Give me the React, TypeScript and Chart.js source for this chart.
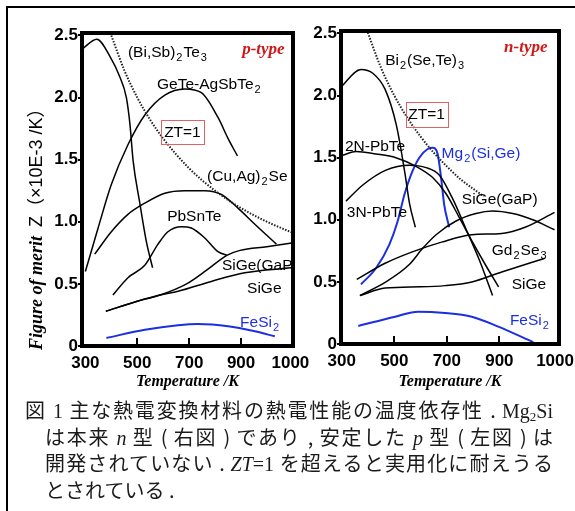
import React, { useEffect, useRef } from "react";
import { Chart, registerables } from "chart.js";

Chart.register(...registerables);

const SANS = '"Liberation Sans", Arial, "Noto Sans CJK JP", sans-serif';
const SERIF = '"Liberation Serif", "Times New Roman", serif';
const BLUE = "#1c2fe0";
const RED = "#d01818";

// ---------- shared axis ticks ----------
const xTickLabels = ["300", "500", "700", "900", "1000"];
const leftXTickValues = [300, 500, 700, 900, 1090];
const rightXTickValues = [300, 500, 700, 900, 1112];
const yTickValues = [0, 0.5, 1, 1.5, 2, 2.5];
const yTickLabels = ["0", "0.5", "1.0", "1.5", "2.0", "2.5"];

// ---------- left panel (p-type) ----------
const ztLeftT = [400, 450, 500, 550, 600, 700, 800, 900, 1000, 1100];
const ztLeftZ = [2.5, 2.22, 2.0, 1.82, 1.67, 1.43, 1.25, 1.11, 1.0, 0.91];
const biSbTeT = [287, 344, 395, 432, 458, 472, 484, 509, 535, 559];
const biSbTeZ = [2.39, 2.47, 2.33, 2.17, 2.0, 1.78, 1.49, 1.16, 0.84, 0.63];
const geTeT = [300, 349, 400, 464, 529, 606, 683, 747, 811, 850, 886];
const geTeZ = [0.6, 0.95, 1.3, 1.62, 1.86, 2.02, 2.07, 2.04, 1.84, 1.67, 1.53];
const cuAgSeT = [336, 400, 464, 529, 606, 683, 760, 824, 888, 953, 1036];
const cuAgSeZ = [0.74, 0.92, 1.06, 1.15, 1.23, 1.25, 1.25, 1.22, 1.11, 0.98, 0.82];
const pbSnTeT = [406, 464, 529, 580, 618, 670, 708, 760, 811, 845];
const pbSnTeZ = [0.41, 0.55, 0.65, 0.82, 0.92, 0.96, 0.95, 0.87, 0.76, 0.73];
const siGeGaPLeftT = [379, 500, 588, 690, 767, 845, 896, 999, 1095];
const siGeGaPLeftZ = [0.28, 0.36, 0.41, 0.5, 0.61, 0.73, 0.77, 0.8, 0.83];
const siGeLeftT = [379, 500, 588, 657, 785, 914, 1093];
const siGeLeftZ = [0.28, 0.36, 0.41, 0.44, 0.52, 0.59, 0.63];
const feSi2LeftT = [381, 529, 657, 734, 850, 953, 1030];
const feSi2LeftZ = [0.065, 0.13, 0.167, 0.177, 0.159, 0.118, 0.078];

const leftLabelTexts = ["(Bi,Sb)_2Te_3", "GeTe-AgSbTe_2", "(Cu,Ag)_2Se", "PbSnTe", "SiGe(GaP)", "SiGe", "FeSi_2"];
const leftLabelT = [464, 576, 769, 615, 826, 923, 896];
const leftLabelZ = [2.36, 2.1, 1.365, 1.04, 0.65, 0.46, 0.19];
const leftLabelColors = ["#000", "#000", "#000", "#000", "#000", "#000", BLUE];

// ---------- right panel (n-type) ----------
const ztRightT = [395, 450, 500, 550, 600, 650, 700, 750, 800, 840];
const ztRightZ = [2.53, 2.22, 2.0, 1.82, 1.67, 1.54, 1.43, 1.33, 1.25, 1.19];
const biSeTeT = [297, 373, 418, 465, 508, 540, 558, 580];
const biSeTeZ = [2.07, 2.21, 2.18, 2.05, 1.76, 1.38, 1.13, 0.94];
const pbTe2NT = [303, 354, 430, 506, 583, 646, 697, 747, 798, 849, 897];
const pbTe2NZ = [1.52, 1.55, 1.53, 1.5, 1.43, 1.34, 1.21, 1.02, 0.82, 0.63, 0.46];
const pbTe3NT = [316, 380, 468, 557, 621, 671, 722, 772, 823, 874];
const pbTe3NZ = [1.15, 1.28, 1.4, 1.44, 1.42, 1.36, 1.17, 0.93, 0.68, 0.39];
const siGeGaPRightT = [369, 468, 557, 608, 659, 735, 811, 874, 951, 1027, 1110];
const siGeGaPRightZ = [0.39, 0.5, 0.64, 0.77, 0.88, 0.99, 1.05, 1.07, 1.05, 1.0, 0.92];
const siGeRightT = [369, 465, 600, 693, 795, 909, 1074];
const siGeRightZ = [0.39, 0.45, 0.46, 0.47, 0.5, 0.58, 0.69];
const gd2Se3T = [357, 465, 566, 680, 795, 909, 998, 1110];
const gd2Se3Z = [0.52, 0.65, 0.74, 0.82, 0.88, 0.89, 0.94, 1.06];
const mg2SiGeT = [373, 430, 481, 513, 538, 563, 595, 627, 646, 665, 678, 690, 709];
const mg2SiGeZ = [0.48, 0.61, 0.8, 0.99, 1.2, 1.36, 1.5, 1.57, 1.58, 1.53, 1.34, 1.12, 0.94];
const feSi2RightT = [363, 503, 591, 693, 795, 896, 1029];
const feSi2RightZ = [0.145, 0.22, 0.26, 0.25, 0.22, 0.14, 0.014];

const rightLabelTexts = ["Bi_2(Se,Te)_3", "2N-PbTe", "Mg_2(Si,Ge)", "3N-PbTe", "SiGe(GaP)", "Gd_2Se_3", "SiGe", "FeSi_2"];
const rightLabelT = [465, 312, 680, 319, 757, 871, 947, 940];
const rightLabelZ = [2.28, 1.59, 1.53, 1.06, 1.16, 0.75, 0.475, 0.185];
const rightLabelColors = ["#000", "#000", BLUE, "#000", "#000", "#000", "#000", BLUE];

type Series = { t: number[]; z: number[]; color: string; width: number; dash?: number[] };
type Panel = {
  canvasW: number;
  canvasH: number;
  padTop: number;
  padRight: number;
  yAxisW: number;
  xAxisH: number;
  xMin: number;
  xMax: number;
  xTicks: number[];
  series: Series[];
  labelTexts: string[];
  labelT: number[];
  labelZ: number[];
  labelColors: string[];
  typeText: string;
  typeT: number;
  typeZ: number;
  boxT: number[];
  boxZ: number[];
  yTitle: boolean;
};

const leftPanel: Panel = {
  canvasW: 312,
  canvasH: 400,
  padTop: 33,
  padRight: 19,
  yAxisW: 82,
  xAxisH: 54,
  xMin: 287,
  xMax: 1100,
  xTicks: leftXTickValues,
  series: [
    { t: ztLeftT, z: ztLeftZ, color: "#222", width: 2, dash: [1.5, 1.5] },
    { t: biSbTeT, z: biSbTeZ, color: "#000", width: 1.5 },
    { t: geTeT, z: geTeZ, color: "#000", width: 1.5 },
    { t: cuAgSeT, z: cuAgSeZ, color: "#000", width: 1.5 },
    { t: pbSnTeT, z: pbSnTeZ, color: "#000", width: 1.5 },
    { t: siGeGaPLeftT, z: siGeGaPLeftZ, color: "#000", width: 1.5 },
    { t: siGeLeftT, z: siGeLeftZ, color: "#000", width: 1.5 },
    { t: feSi2LeftT, z: feSi2LeftZ, color: BLUE, width: 2 },
  ],
  labelTexts: leftLabelTexts,
  labelT: leftLabelT,
  labelZ: leftLabelZ,
  labelColors: leftLabelColors,
  typeText: "p-type",
  typeT: 904,
  typeZ: 2.39,
  boxT: [591, 757],
  boxZ: [1.63, 1.82],
  yTitle: true,
};

const rightPanel: Panel = {
  canvasW: 275,
  canvasH: 400,
  padTop: 31,
  padRight: 16,
  yAxisW: 41,
  xAxisH: 56,
  xMin: 297,
  xMax: 1127,
  xTicks: rightXTickValues,
  series: [
    { t: ztRightT, z: ztRightZ, color: "#222", width: 2, dash: [1.5, 1.5] },
    { t: biSeTeT, z: biSeTeZ, color: "#000", width: 1.5 },
    { t: pbTe2NT, z: pbTe2NZ, color: "#000", width: 1.5 },
    { t: pbTe3NT, z: pbTe3NZ, color: "#000", width: 1.5 },
    { t: siGeGaPRightT, z: siGeGaPRightZ, color: "#000", width: 1.5 },
    { t: siGeRightT, z: siGeRightZ, color: "#000", width: 1.5 },
    { t: gd2Se3T, z: gd2Se3Z, color: "#000", width: 1.5 },
    { t: mg2SiGeT, z: mg2SiGeZ, color: BLUE, width: 2 },
    { t: feSi2RightT, z: feSi2RightZ, color: BLUE, width: 2 },
  ],
  labelTexts: rightLabelTexts,
  labelT: rightLabelT,
  labelZ: rightLabelZ,
  labelColors: rightLabelColors,
  typeText: "n-type",
  typeT: 918,
  typeZ: 2.39,
  boxT: [543, 703],
  boxZ: [1.75, 1.95],
  yTitle: false,
};

const pts = (t: number[], z: number[]) => t.map((x, i) => ({ x, y: z[i] }));

function drawRich(ctx: CanvasRenderingContext2D, text: string, x: number, y: number, size: number, color: string) {
  const segs: { s: string; sub: boolean }[] = [];
  let buf = "";
  for (let i = 0; i < text.length; i++) {
    if (text[i] === "_" && i + 1 < text.length) {
      if (buf) segs.push({ s: buf, sub: false });
      buf = "";
      segs.push({ s: text[i + 1], sub: true });
      i++;
    } else buf += text[i];
  }
  if (buf) segs.push({ s: buf, sub: false });
  ctx.fillStyle = color;
  ctx.textAlign = "left";
  ctx.textBaseline = "middle";
  let cx = x;
  for (const seg of segs) {
    if (seg.sub) {
      ctx.font = `${Math.round(size * 0.72)}px ${SANS}`;
      cx += 1;
      ctx.fillText(seg.s, cx, y + size * 0.33);
      cx += ctx.measureText(seg.s).width + 1;
    } else {
      ctx.font = `${size}px ${SANS}`;
      ctx.fillText(seg.s, cx, y);
      cx += ctx.measureText(seg.s).width;
    }
  }
}

function decoPlugin(p: Panel) {
  return {
    id: "panelDeco",
    afterDatasetsDraw(chart: any) {
      const { ctx, chartArea: a, scales } = chart;
      const x = scales.x;
      const y = scales.y;
      ctx.save();
      ctx.beginPath();
      ctx.rect(a.left, a.top, a.right - a.left, a.bottom - a.top);
      ctx.clip();
      p.labelTexts.forEach((txt, i) => {
        drawRich(ctx, txt, x.getPixelForValue(p.labelT[i]), y.getPixelForValue(p.labelZ[i]), 15.5, p.labelColors[i]);
      });
      const bx1 = x.getPixelForValue(p.boxT[0]);
      const bx2 = x.getPixelForValue(p.boxT[1]);
      const by1 = y.getPixelForValue(p.boxZ[1]);
      const by2 = y.getPixelForValue(p.boxZ[0]);
      ctx.strokeStyle = "#e06262";
      ctx.lineWidth = 1;
      ctx.strokeRect(Math.round(bx1) + 0.5, Math.round(by1) + 0.5, Math.round(bx2 - bx1), Math.round(by2 - by1));
      ctx.fillStyle = "#000";
      ctx.font = `15.5px ${SANS}`;
      ctx.textAlign = "center";
      ctx.textBaseline = "middle";
      ctx.fillText("ZT=1", (bx1 + bx2) / 2, (by1 + by2) / 2 + 1);
      ctx.fillStyle = RED;
      ctx.font = `italic bold 17px ${SERIF}`;
      ctx.textAlign = "left";
      ctx.fillText(p.typeText, x.getPixelForValue(p.typeT), y.getPixelForValue(p.typeZ));
      ctx.restore();
    },
    afterDraw(chart: any) {
      const { ctx, chartArea: a, scales } = chart;
      const x = scales.x;
      ctx.save();
      ctx.strokeStyle = "#000";
      ctx.lineWidth = 4;
      ctx.strokeRect(a.left, a.top, a.right - a.left, a.bottom - a.top);
      ctx.lineWidth = 2;
      p.xTicks.slice(1, -1).forEach((v) => {
        const px = Math.round(x.getPixelForValue(v));
        ctx.beginPath();
        ctx.moveTo(px, a.bottom);
        ctx.lineTo(px, a.bottom - 8);
        ctx.stroke();
      });
      if (p.yTitle) {
        ctx.translate(37, 350);
        ctx.rotate(-Math.PI / 2);
        ctx.fillStyle = "#000";
        ctx.textAlign = "left";
        ctx.textBaseline = "middle";
        ctx.font = `italic bold 18px ${SERIF}`;
        ctx.fillText("Figure of merit", 0, 0);
        const w = ctx.measureText("Figure of merit").width;
        ctx.font = `18px ${SANS}`;
        ctx.fillText("Z（×10E-3 /K）", w + 9, 0);
      }
      ctx.restore();
    },
  };
}

function buildConfig(p: Panel): any {
  return {
    type: "line",
    data: {
      datasets: p.series.map((s) => ({
        data: pts(s.t, s.z),
        borderColor: s.color,
        borderWidth: s.width,
        borderDash: s.dash || [],
        pointRadius: 0,
        fill: false,
        tension: 0.4,
        cubicInterpolationMode: "monotone",
      })),
    },
    options: {
      responsive: false,
      animation: false,
      events: [],
      layout: { padding: { top: p.padTop, right: p.padRight, left: 0, bottom: 0 } },
      plugins: { legend: { display: false }, tooltip: { enabled: false } },
      scales: {
        x: {
          type: "linear",
          min: p.xMin,
          max: p.xMax,
          afterBuildTicks: (s: any) => {
            s.ticks = p.xTicks.map((v) => ({ value: v }));
          },
          afterFit: (s: any) => {
            s.height = p.xAxisH;
            s.paddingLeft = 0;
            s.paddingRight = 0;
          },
          ticks: {
            autoSkip: false,
            maxRotation: 0,
            minRotation: 0,
            padding: 7,
            color: "#000",
            font: { family: SANS, size: 17, weight: "bold" },
            callback: (_v: any, i: number) => xTickLabels[i],
          },
          grid: { display: false, drawTicks: false },
          border: { display: false },
          title: {
            display: true,
            text: "Temperature /K",
            color: "#000",
            font: { family: SERIF, size: 16, style: "italic", weight: "bold" },
            padding: { top: 0, bottom: 9 },
          },
        },
        y: {
          type: "linear",
          min: 0,
          max: 2.52,
          afterBuildTicks: (s: any) => {
            s.ticks = yTickValues.map((v) => ({ value: v }));
          },
          afterFit: (s: any) => {
            s.width = p.yAxisW;
            s.paddingTop = 0;
            s.paddingBottom = 0;
          },
          ticks: {
            padding: 0,
            color: "#000",
            font: { family: SANS, size: 17, weight: "bold" },
            callback: (_v: any, i: number) => yTickLabels[i],
          },
          grid: { display: true, drawOnChartArea: false, drawTicks: true, tickLength: 4, color: "#000", lineWidth: 2 },
          border: { display: false },
        },
      },
    },
    plugins: [decoPlugin(p)],
  };
}

function PanelChart({ panel, left }: { panel: Panel; left: number }) {
  const ref = useRef<HTMLCanvasElement | null>(null);
  useEffect(() => {
    if (!ref.current) return;
    const chart = new Chart(ref.current, buildConfig(panel));
    return () => chart.destroy();
  }, [panel]);
  return (
    <canvas
      ref={ref}
      width={panel.canvasW}
      height={panel.canvasH}
      style={{ position: "absolute", left, top: 0, width: panel.canvasW, height: panel.canvasH }}
    />
  );
}

const serif: React.CSSProperties = { fontFamily: SERIF };
const lineBase: React.CSSProperties = {
  height: 26.5,
  lineHeight: "26.5px",
  textAlign: "justify",
  textAlignLast: "justify" as any,
};

export default function App() {
  return (
    <div style={{ position: "absolute", left: 0, top: 0, width: 575, height: 511, overflow: "hidden", background: "#fff" }}>
      <div
        style={{
          position: "absolute",
          left: 6,
          top: 6,
          width: 600,
          height: 600,
          borderTop: "2px solid #000",
          borderLeft: "2px solid #000",
        }}
      />
      <PanelChart panel={leftPanel} left={0} />
      <PanelChart panel={rightPanel} left={300} />
      <div
        style={{
          position: "absolute",
          left: 25,
          top: 397,
          width: 528,
          fontFamily: '"Noto Sans CJK JP", sans-serif',
          fontSize: 20,
          color: "#1a1a1a",
        }}
      >
        <div style={lineBase}>
          図 <span style={serif}>1</span> 主な熱電変換材料の熱電性能の温度依存性 .{" "}
          <span style={serif}>
            Mg<sub style={{ fontSize: 13, verticalAlign: "-3px", lineHeight: 0 }}>2</sub>Si
          </span>
        </div>
        <div style={{ ...lineBase, marginLeft: 20 }}>
          は本来 <i style={serif}>n</i> 型 ( 右図 ) であり , 安定した <i style={serif}>p</i> 型 ( 左図 ) は
        </div>
        <div style={{ ...lineBase, marginLeft: 20 }}>
          開発されていない . <i style={serif}>ZT</i>
          <span style={serif}>=1</span> を超えると実用化に耐えうる
        </div>
        <div style={{ height: 26.5, lineHeight: "26.5px", marginLeft: 20 }}>とされている .</div>
      </div>
    </div>
  );
}
